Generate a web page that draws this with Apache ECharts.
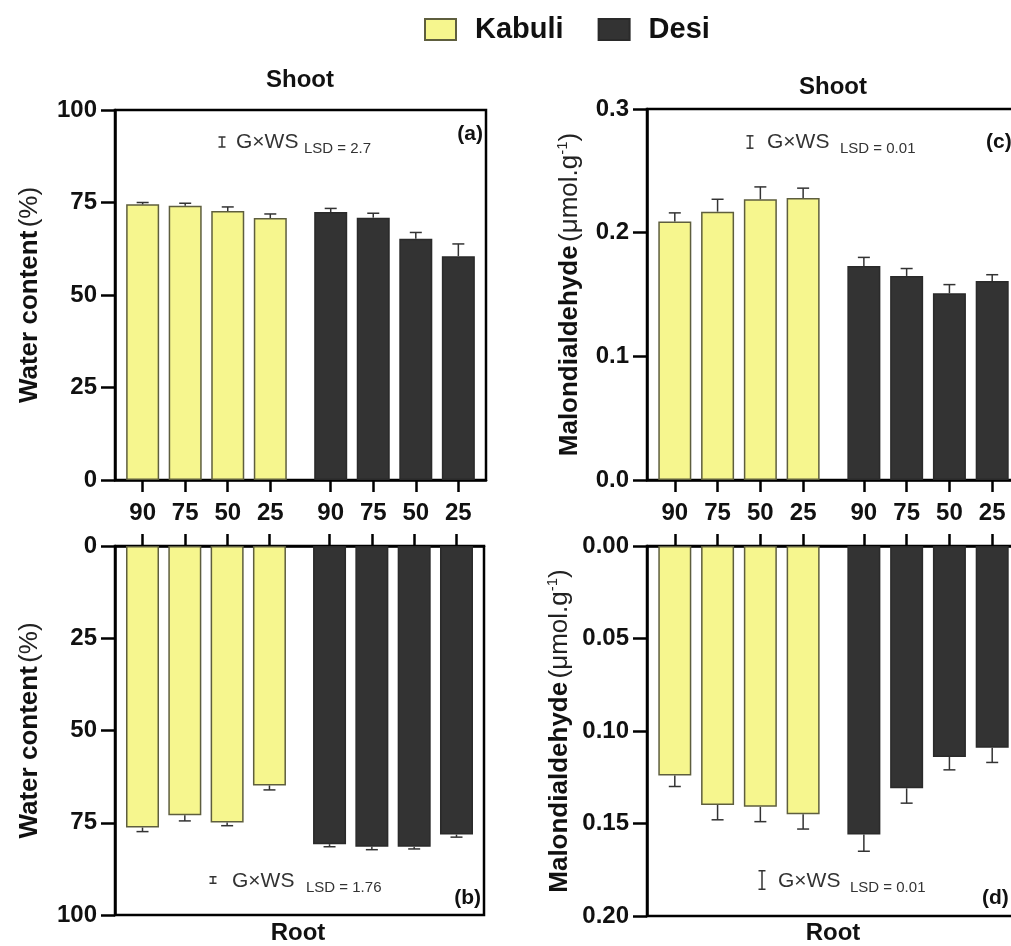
<!DOCTYPE html>
<html><head><meta charset="utf-8">
<script src="https://cdn.jsdelivr.net/npm/echarts@6/dist/echarts.min.js"></script>
<style>html,body{margin:0;padding:0;background:#fff}#c{width:1011px;height:946px}</style>
</head><body><div id="c"></div>
<script>
// ---- data ----
const categories = ['90', '75', '50', '25'];
const groups = ['Kabuli', 'Desi'];

const shootWaterKabuli = [74.5, 74.1, 72.7, 70.8];
const shootWaterKabuliErr = [0.5, 0.7, 1.1, 1.1];
const shootWaterDesi = [72.4, 70.9, 65.2, 60.5];
const shootWaterDesiErr = [1.0, 1.2, 1.7, 3.3];

const rootWaterKabuli = [76.3, 73.0, 74.9, 64.9];
const rootWaterKabuliErr = [1.1, 1.5, 0.9, 1.2];
const rootWaterDesi = [80.8, 81.5, 81.5, 78.2];
const rootWaterDesiErr = [0.7, 0.8, 0.6, 0.7];

const shootMdaKabuli = [0.209, 0.217, 0.227, 0.228];
const shootMdaKabuliErr = [0.007, 0.010, 0.010, 0.008];
const shootMdaDesi = [0.173, 0.165, 0.151, 0.161];
const shootMdaDesiErr = [0.007, 0.006, 0.007, 0.005];

const rootMdaKabuli = [0.124, 0.140, 0.141, 0.145];
const rootMdaKabuliErr = [0.006, 0.008, 0.008, 0.008];
const rootMdaDesi = [0.156, 0.131, 0.114, 0.109];
const rootMdaDesiErr = [0.009, 0.008, 0.007, 0.008];

const lsdValues = [2.7, 1.76, 0.01, 0.01]; // a, b, c, d
const panelLetters = ['(a)', '(b)', '(c)', '(d)'];
const organTitles = ['Shoot', 'Root', 'Shoot', 'Root'];

// ---- layout ----
const FONT = '"Liberation Sans", Arial, Helvetica, sans-serif';
const GROUP_OFFSET = 4.42;
const X_MIN = -0.65, X_MAX = 8.07;
const FILL = { Kabuli: '#f6f68e', Desi: '#333333' };
const EDGE = { Kabuli: '#5e5e3e', Desi: '#2a2a2a' };
const INK = '#111';

const kabX = categories.map((c, i) => i);
const desX = categories.map((c, i) => i + GROUP_OFFSET);
const allX = kabX.concat(desX);
const xLabel = v => {
  const idx = allX.findIndex(p => Math.abs(p - v) < 1e-6);
  return idx < 0 ? '' : categories[idx % categories.length];
};

const panels = [
  { grid: { left: 115, top: 110, width: 371, height: 370 }, inverse: false, min: 0, max: 100, interval: 25, dec: 0,
    kab: shootWaterKabuli, kabErr: shootWaterKabuliErr, des: shootWaterDesi, desErr: shootWaterDesiErr,
    name: '{b|Water content} {n|(%)}', nameGap: 72, xLabels: true,
    lsd: { bx: 222, by: 142, tx: 236, ty: 142, sx: 304, sy: 149 },
    letter: { x: 483, y: 134, align: 'right' }, title: { x: 300, y: 80 } },
  { grid: { left: 115, top: 546, width: 369, height: 369 }, inverse: true, min: 0, max: 100, interval: 25, dec: 0,
    kab: rootWaterKabuli, kabErr: rootWaterKabuliErr, des: rootWaterDesi, desErr: rootWaterDesiErr,
    name: '{b|Water content} {n|(%)}', nameGap: 72, xLabels: false,
    lsd: { bx: 213, by: 880, tx: 232, ty: 881, sx: 306, sy: 888 },
    letter: { x: 481, y: 898, align: 'right' }, title: { x: 298, y: 933 } },
  { grid: { left: 647, top: 109, width: 373, height: 371 }, inverse: false, min: 0, max: 0.3, interval: 0.1, dec: 1,
    kab: shootMdaKabuli, kabErr: shootMdaKabuliErr, des: shootMdaDesi, desErr: shootMdaDesiErr,
    name: '{b|Malondialdehyde} {n|(μmol.g}{s|-1}{n|)}', nameGap: 62, xLabels: true,
    lsd: { bx: 750, by: 142, tx: 767, ty: 142, sx: 840, sy: 149 },
    letter: { x: 986, y: 142, align: 'left' }, title: { x: 833, y: 87 } },
  { grid: { left: 647, top: 546, width: 373, height: 370 }, inverse: true, min: 0, max: 0.2, interval: 0.05, dec: 2,
    kab: rootMdaKabuli, kabErr: rootMdaKabuliErr, des: rootMdaDesi, desErr: rootMdaDesiErr,
    name: '{b|Malondialdehyde} {n|(μmol.g}{s|-1}{n|)}', nameGap: 72, xLabels: false,
    lsd: { bx: 762, by: 880, tx: 778, ty: 881, sx: 850, sy: 888 },
    letter: { x: 982, y: 898, align: 'left' }, title: { x: 833, y: 933 } }
];

function errRender(params, api) {
  const x = api.value(0), v = api.value(1), e = api.value(2);
  const p0 = api.coord([x, v]);
  const p1 = api.coord([x, v + e]);
  const hw = 6;
  const st = { stroke: '#333', lineWidth: 1.5 };
  return { type: 'group', children: [
    { type: 'line', shape: { x1: p0[0], y1: p0[1], x2: p1[0], y2: p1[1] }, style: st },
    { type: 'line', shape: { x1: p1[0] - hw, y1: p1[1], x2: p1[0] + hw, y2: p1[1] }, style: st }
  ] };
}

function lsdRender(cfg) {
  return function (params, api) {
    const lsd = api.value(1);
    const h = Math.abs(api.size([0, lsd])[1]);
    const st = { stroke: '#333', lineWidth: 1.5 };
    const hw = 3.5;
    return { type: 'group', children: [
      { type: 'line', shape: { x1: cfg.bx, y1: cfg.by - h / 2, x2: cfg.bx, y2: cfg.by + h / 2 }, style: st },
      { type: 'line', shape: { x1: cfg.bx - hw, y1: cfg.by - h / 2, x2: cfg.bx + hw, y2: cfg.by - h / 2 }, style: st },
      { type: 'line', shape: { x1: cfg.bx - hw, y1: cfg.by + h / 2, x2: cfg.bx + hw, y2: cfg.by + h / 2 }, style: st },
      { type: 'text', x: cfg.tx, y: cfg.ty, style: { text: 'G×WS', fontSize: 21, fontFamily: FONT, fill: '#333', align: 'left', verticalAlign: 'middle' } },
      { type: 'text', x: cfg.sx, y: cfg.sy, style: { text: 'LSD = ' + lsd, fontSize: 15, fontFamily: FONT, fill: '#333', align: 'left', verticalAlign: 'middle' } }
    ] };
  };
}

const grids = [], xAxes = [], yAxes = [], series = [], graphics = [];
panels.forEach((p, i) => {
  grids.push(Object.assign({ show: true, borderColor: '#000', borderWidth: 2.5, backgroundColor: 'transparent', containLabel: false, outerBoundsMode: 'none' }, p.grid));
  xAxes.push({
    gridIndex: i, type: 'value', min: X_MIN, max: X_MAX, position: p.inverse ? 'top' : 'bottom',
    axisLine: { show: true, onZero: false, lineStyle: { color: '#000', width: 2.5 } },
    axisTick: { show: true, customValues: allX, length: 12, lineStyle: { color: '#000', width: 2.5 } },
    axisLabel: { show: p.xLabels, customValues: allX, formatter: xLabel, margin: 21, fontSize: 24, fontWeight: 'bold', color: INK, fontFamily: FONT },
    splitLine: { show: false }
  });
  yAxes.push({
    gridIndex: i, type: 'value', min: p.min, max: p.max, interval: p.interval, inverse: p.inverse,
    axisLine: { show: true, onZero: false, lineStyle: { color: '#000', width: 2.5 } },
    axisTick: { show: true, length: 14, lineStyle: { color: '#000', width: 2.5 } },
    axisLabel: { margin: 18, fontSize: 24, fontWeight: 'bold', color: INK, fontFamily: FONT, formatter: v => (+v).toFixed(p.dec) },
    splitLine: { show: false },
    name: p.name, nameLocation: 'middle', nameGap: p.nameGap,
    nameTextStyle: {
      fontFamily: FONT, color: INK,
      rich: {
        b: { fontSize: 26, fontWeight: 'bold', fontFamily: FONT, color: INK },
        n: { fontSize: 26, fontWeight: 'normal', fontFamily: FONT, color: '#222' },
        s: { fontSize: 15, fontWeight: 'normal', fontFamily: FONT, color: '#222', verticalAlign: 'top', lineHeight: 30 }
      }
    }
  });
  [['Kabuli', kabX, p.kab, p.kabErr], ['Desi', desX, p.des, p.desErr]].forEach(([g, xs, vals, errs]) => {
    series.push({
      name: g, type: 'bar', xAxisIndex: i, yAxisIndex: i, barWidth: 33, barGap: '-100%',
      itemStyle: { color: FILL[g], borderColor: EDGE[g], borderWidth: 1.5 },
      data: vals.map((v, k) => [xs[k], v]), z: 2, animation: false
    });
    series.push({
      type: 'custom', xAxisIndex: i, yAxisIndex: i, renderItem: errRender, z: 3, animation: false,
      data: vals.map((v, k) => [xs[k], v, errs[k]]), silent: true
    });
  });
  series.push({
    type: 'custom', xAxisIndex: i, yAxisIndex: i, renderItem: lsdRender(p.lsd), z: 4, animation: false, silent: true,
    data: [[0, lsdValues[i]]]
  });
  graphics.push({ type: 'text', x: p.letter.x, y: p.letter.y, style: { text: panelLetters[i], fontSize: 21, fontWeight: 'bold', fontFamily: FONT, fill: INK, align: p.letter.align, verticalAlign: 'middle' } });
  graphics.push({ type: 'text', x: p.title.x, y: p.title.y, style: { text: organTitles[i], fontSize: 24, fontWeight: 'bold', fontFamily: FONT, fill: INK, align: 'center', verticalAlign: 'middle' } });
});

const chart = echarts.init(document.getElementById('c'), null, { renderer: 'canvas' });
chart.setOption({
  animation: false,
  backgroundColor: '#fff',
  legend: {
    data: groups, left: 419, top: 10, icon: 'rect', itemWidth: 31, itemHeight: 21, itemGap: 34,
    textStyle: { fontSize: 29, fontWeight: 'bold', color: INK, fontFamily: FONT, padding: [0, 0, 0, 14] }
  },
  grid: grids, xAxis: xAxes, yAxis: yAxes, series: series, graphic: graphics
});
</script></body></html>
